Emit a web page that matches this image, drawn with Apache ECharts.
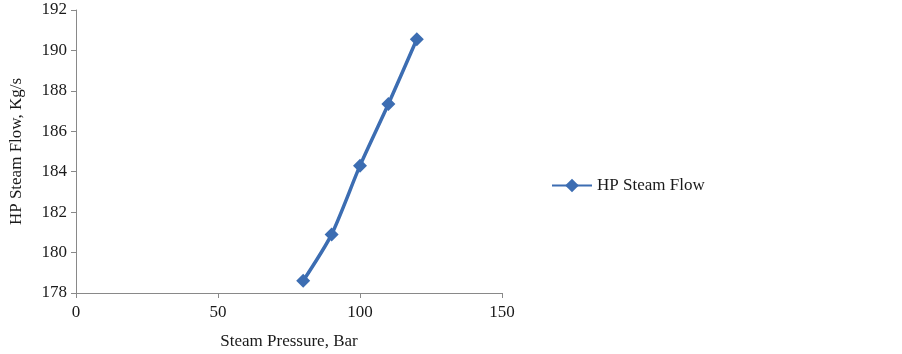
<!DOCTYPE html>
<html><head><meta charset="utf-8">
<script src="https://cdn.jsdelivr.net/npm/echarts@6/dist/echarts.min.js"></script>
<style>html,body{margin:0;padding:0;background:#fff}#c{width:902px;height:354px}</style>
</head><body><div id="c"></div>
<script>
const pressure = [80, 90, 100, 110, 120];
const flow = [178.6, 180.9, 184.3, 187.35, 190.55];
const seriesName = 'HP Steam Flow';
const xTitle = 'Steam Pressure, Bar';
const yTitle = 'HP Steam Flow, Kg/s';

const font = 'Liberation Serif';
const txt = '#1a1a1a';
const axisCol = '#898989';
const chart = echarts.init(document.getElementById('c'));
chart.setOption({
  animation: false,
  grid: {left: 76, right: 400, top: 10, bottom: 61, outerBoundsMode: 'none', containLabel: false},
  legend: {
    data: [seriesName], left: 546, top: 172, itemWidth: 40, itemHeight: 17, itemGap: 6,
    textStyle: {fontFamily: font, fontSize: 17, color: txt}
  },
  xAxis: {
    type: 'value', min: 0, max: 150, interval: 50,
    name: xTitle, nameLocation: 'middle', nameGap: 40,
    nameTextStyle: {fontFamily: font, fontSize: 17, color: txt},
    axisLine: {show: true, lineStyle: {color: axisCol}},
    axisTick: {show: true, length: 5, lineStyle: {color: axisCol}},
    axisLabel: {fontFamily: font, fontSize: 17, color: txt, margin: 11},
    splitLine: {show: false}
  },
  yAxis: {
    type: 'value', min: 178, max: 192, interval: 2,
    name: yTitle, nameLocation: 'middle', nameGap: 51,
    nameTextStyle: {fontFamily: font, fontSize: 17, color: txt},
    axisLine: {show: true, lineStyle: {color: axisCol}},
    axisTick: {show: true, length: 5, lineStyle: {color: axisCol}},
    axisLabel: {fontFamily: font, fontSize: 17, color: txt, margin: 9},
    splitLine: {show: false}
  },
  series: [{
    name: seriesName, type: 'line', smooth: 0.25,
    data: pressure.map((p, i) => [p, flow[i]]),
    symbol: 'diamond', symbolSize: 14,
    lineStyle: {color: '#3C6DB2', width: 3.5},
    itemStyle: {color: '#3C6DB2'}
  }]
});
</script></body></html>
